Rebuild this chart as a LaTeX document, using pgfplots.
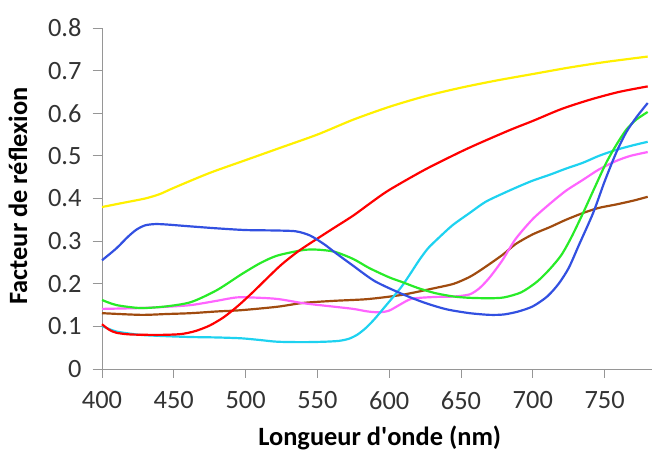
\documentclass[border=0pt]{standalone}
\usepackage{fontspec}
\setmainfont{Carlito}
\usepackage{pgfplots}
\pgfplotsset{compat=1.18}
\definecolor{cyel}{RGB}{255,240,0}
\definecolor{cred}{RGB}{255,0,0}
\definecolor{cblue}{RGB}{50,80,225}
\definecolor{cgreen}{RGB}{40,235,40}
\definecolor{cpink}{RGB}{255,100,255}
\definecolor{cbrown}{RGB}{160,75,15}
\definecolor{ccyan}{RGB}{30,210,240}
\definecolor{axgray}{RGB}{150,150,150}
\begin{document}
\begin{tikzpicture}
\path[use as bounding box] (-102bp,-83bp) rectangle (550bp,369bp);
\begin{axis}[
  scale only axis, width=550bp, height=341bp,
  at={(0,0)}, anchor=south west,
  xmin=400, xmax=783, ymin=0, ymax=0.8,
  axis x line*=bottom, axis y line*=left,
  axis line style={axgray, line width=1pt, -},
  major tick length=0pt,
  xtick={400,450,...,750}, ytick={0,0.1,...,0.8},
  yticklabel={\pgfmathprintnumber[assume math mode=true,fixed,precision=1]{\tick}},
  xticklabel={\pgfmathprintnumber[assume math mode=true,fixed]{\tick}},
  ticklabel style={font=\fontsize{26.5}{30}\selectfont, text=black!80},
  yticklabel style={xshift=-17bp},
  xticklabel style={yshift=-19bp},
  xlabel={\textbf{Longueur d\textquotesingle onde (nm)}},
  ylabel={\textbf{Facteur de réflexion}},
  label style={font=\fontsize{26.5}{30}\selectfont},
  xlabel style={at={(axis description cs:0.505,-0.223)}, anchor=base},
  ylabel style={at={(axis description cs:-0.153,0.507)}, anchor=center},
  clip=false,
]
% tick marks
\addplot[axgray, line width=1pt, sharp plot, no marks, forget plot] coordinates {(400,0)(400,-0.022)};
\addplot[axgray, line width=1pt, sharp plot, no marks, forget plot] coordinates {(450,0)(450,-0.022)};
\addplot[axgray, line width=1pt, sharp plot, no marks, forget plot] coordinates {(500,0)(500,-0.022)};
\addplot[axgray, line width=1pt, sharp plot, no marks, forget plot] coordinates {(550,0)(550,-0.022)};
\addplot[axgray, line width=1pt, sharp plot, no marks, forget plot] coordinates {(600,0)(600,-0.022)};
\addplot[axgray, line width=1pt, sharp plot, no marks, forget plot] coordinates {(650,0)(650,-0.022)};
\addplot[axgray, line width=1pt, sharp plot, no marks, forget plot] coordinates {(700,0)(700,-0.022)};
\addplot[axgray, line width=1pt, sharp plot, no marks, forget plot] coordinates {(750,0)(750,-0.022)};
\addplot[axgray, line width=1pt, sharp plot, no marks, forget plot] coordinates {(393.5,0)(400,0)};
\addplot[axgray, line width=1pt, sharp plot, no marks, forget plot] coordinates {(393.5,0.1)(400,0.1)};
\addplot[axgray, line width=1pt, sharp plot, no marks, forget plot] coordinates {(393.5,0.2)(400,0.2)};
\addplot[axgray, line width=1pt, sharp plot, no marks, forget plot] coordinates {(393.5,0.3)(400,0.3)};
\addplot[axgray, line width=1pt, sharp plot, no marks, forget plot] coordinates {(393.5,0.4)(400,0.4)};
\addplot[axgray, line width=1pt, sharp plot, no marks, forget plot] coordinates {(393.5,0.5)(400,0.5)};
\addplot[axgray, line width=1pt, sharp plot, no marks, forget plot] coordinates {(393.5,0.6)(400,0.6)};
\addplot[axgray, line width=1pt, sharp plot, no marks, forget plot] coordinates {(393.5,0.7)(400,0.7)};
\addplot[axgray, line width=1pt, sharp plot, no marks, forget plot] coordinates {(393.5,0.8)(400,0.8)};
\pgfplotsset{every axis plot/.append style={line width=2.2pt, no marks, smooth, tension=0.45}}
% yellow
\addplot[cyel] coordinates {(400,0.38)(415,0.39)(430,0.40)(440,0.41)(450,0.425)(475,0.46)(500,0.49)(525,0.52)(550,0.55)(575,0.585)(600,0.615)(625,0.64)(650,0.66)(675,0.677)(700,0.692)(725,0.707)(750,0.72)(780,0.733)};
% brown
\addplot[cbrown] coordinates {(400,0.131)(427,0.127)(445,0.129)(462,0.131)(480,0.135)(497,0.138)(522,0.146)(540,0.155)(562,0.16)(585,0.164)(609,0.174)(632,0.19)(645,0.2)(656,0.216)(665,0.235)(679,0.268)(688,0.293)(700,0.316)(712,0.333)(723,0.35)(735,0.366)(746,0.378)(758,0.386)(770,0.395)(780,0.404)};
% pink
\addplot[cpink] coordinates {(400,0.141)(427,0.143)(445,0.146)(462,0.15)(480,0.16)(494,0.168)(510,0.167)(523,0.164)(541,0.154)(562,0.146)(575,0.141)(585,0.135)(593,0.133)(600,0.137)(608,0.152)(616,0.165)(632,0.169)(645,0.17)(656,0.175)(663,0.19)(670,0.215)(679,0.256)(688,0.305)(700,0.352)(712,0.388)(723,0.418)(735,0.444)(746,0.468)(758,0.488)(768,0.5)(780,0.509)};
% cyan
\addplot[ccyan] coordinates {(400,0.101)(410,0.088)(427,0.080)(445,0.077)(462,0.075)(480,0.074)(497,0.072)(510,0.068)(522,0.064)(540,0.063)(555,0.064)(565,0.066)(572,0.071)(578,0.081)(584,0.097)(590,0.118)(597,0.146)(603,0.17)(609,0.195)(615,0.225)(621,0.256)(627,0.283)(633,0.303)(644,0.337)(656,0.366)(667,0.392)(680,0.413)(690,0.428)(700,0.442)(712,0.456)(723,0.47)(735,0.484)(746,0.5)(758,0.514)(770,0.525)(780,0.533)};
% green
\addplot[cgreen] coordinates {(400,0.162)(410,0.150)(427,0.143)(445,0.147)(462,0.157)(480,0.185)(497,0.222)(510,0.248)(522,0.266)(540,0.279)(550,0.28)(562,0.275)(575,0.258)(586,0.237)(600,0.215)(609,0.204)(620,0.19)(632,0.178)(645,0.17)(656,0.167)(670,0.166)(680,0.168)(692,0.18)(703,0.205)(712,0.235)(720,0.268)(727,0.31)(735,0.366)(743,0.425)(751,0.483)(758,0.525)(765,0.561)(772,0.585)(780,0.603)};
% red
\addplot[cred] coordinates {(400,0.105)(405,0.092)(410,0.085)(420,0.081)(440,0.080)(455,0.082)(465,0.089)(475,0.102)(485,0.122)(495,0.149)(505,0.18)(515,0.213)(525,0.245)(537,0.277)(550,0.306)(562,0.332)(575,0.36)(588,0.392)(600,0.42)(625,0.468)(650,0.51)(665,0.533)(685,0.562)(700,0.582)(720,0.61)(740,0.632)(760,0.65)(780,0.663)};
% blue
\addplot[cblue] coordinates {(400,0.255)(410,0.283)(418,0.31)(424,0.327)(430,0.337)(437,0.340)(445,0.339)(460,0.335)(480,0.330)(500,0.326)(520,0.325)(535,0.323)(545,0.313)(555,0.292)(562,0.274)(575,0.242)(590,0.206)(609,0.176)(625,0.155)(640,0.14)(656,0.131)(670,0.127)(680,0.128)(690,0.135)(700,0.147)(710,0.17)(718,0.2)(725,0.237)(732,0.29)(742,0.366)(750,0.44)(758,0.507)(765,0.555)(772,0.59)(780,0.624)};
\end{axis}
\end{tikzpicture}
\end{document}
